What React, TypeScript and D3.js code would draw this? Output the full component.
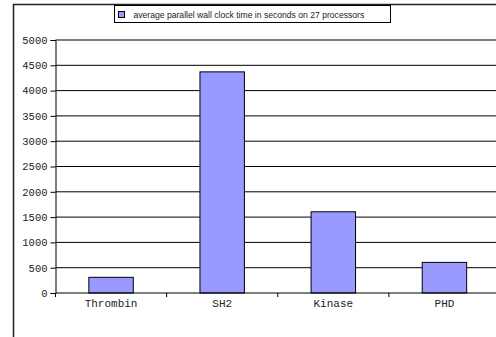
import React, { useRef, useEffect } from 'react';
import * as d3 from 'd3';

const categories = ['Thrombin', 'SH2', 'Kinase', 'PHD'];
const wallClock = [310, 4370, 1605, 605];
const yTicks = [0, 500, 1000, 1500, 2000, 2500, 3000, 3500, 4000, 4500, 5000];
const legendLabel = 'average parallel wall clock time in seconds on 27 processors';

const WallClockChart: React.FC = () => {
  const svgRef = useRef<SVGSVGElement>(null);

  useEffect(() => {
    if (!svgRef.current) return;
    const width = 496;
    const height = 337;
    const margin = { top: 40, right: -4, bottom: 44, left: 55.5 };

    const svg = d3.select(svgRef.current);
    svg.selectAll('*').remove();

    // outer chart frame (only top and left are visible in the window)
    svg.append('rect')
      .attr('x', 13.5).attr('y', 4.5)
      .attr('width', 600).attr('height', 400)
      .attr('fill', '#fff')
      .attr('stroke', '#222')
      .attr('stroke-width', 1.5);

    const x = d3.scaleBand()
      .domain(categories)
      .range([margin.left, width - margin.right])
      .paddingInner(0.6)
      .paddingOuter(0.3);

    const y = d3.scaleLinear()
      .domain([0, 5000])
      .range([height - margin.bottom, margin.top]);

    // gridlines
    svg.append('g')
      .selectAll('line')
      .data(yTicks.slice(1))
      .enter().append('line')
      .attr('x1', margin.left).attr('x2', width)
      .attr('y1', d => y(d)).attr('y2', d => y(d))
      .attr('stroke', '#000')
      .attr('stroke-width', 1);

    // bars
    svg.append('g')
      .selectAll('rect')
      .data(categories)
      .enter().append('rect')
      .attr('x', d => (x(d) || 0))
      .attr('y', (d, i) => y(wallClock[i]))
      .attr('width', x.bandwidth())
      .attr('height', (d, i) => y(0) - y(wallClock[i]))
      .attr('fill', '#9999ff')
      .attr('stroke', '#000')
      .attr('stroke-width', 1);

    // y axis
    svg.append('g')
      .attr('transform', `translate(${margin.left},0)`)
      .call(d3.axisLeft(y).tickValues(yTicks).tickSize(5).tickPadding(3).tickFormat(d3.format('d')))
      .call(g => g.select('.domain').attr('stroke', '#000'))
      .call(g => g.selectAll('.tick line').attr('stroke', '#000'))
      .call(g => g.selectAll('.tick text')
        .attr('fill', '#222')
        .style('font-family', '"Liberation Mono", monospace')
        .style('font-size', '10.5px'));

    // x axis: ticks at band boundaries
    const step = x.step();
    const bounds = d3.range(categories.length + 1).map(i => margin.left + i * step);
    const xg = svg.append('g');
    xg.append('line')
      .attr('x1', margin.left).attr('x2', width)
      .attr('y1', y(0)).attr('y2', y(0))
      .attr('stroke', '#000');
    xg.selectAll('.xtick')
      .data(bounds)
      .enter().append('line')
      .attr('x1', d => d).attr('x2', d => d)
      .attr('y1', y(0)).attr('y2', y(0) + 4)
      .attr('stroke', '#000');
    xg.selectAll('text')
      .data(categories)
      .enter().append('text')
      .attr('x', d => (x(d) || 0) + x.bandwidth() / 2)
      .attr('y', y(0) + 14)
      .attr('text-anchor', 'middle')
      .attr('fill', '#222')
      .style('font-family', '"Liberation Mono", monospace')
      .style('font-size', '11px')
      .text(d => d);

    // legend
    const lg = svg.append('g');
    lg.append('rect')
      .attr('x', 114.5).attr('y', 5.5)
      .attr('width', 276).attr('height', 17)
      .attr('fill', '#fff')
      .attr('stroke', '#000');
    lg.append('rect')
      .attr('x', 118.5).attr('y', 11.5)
      .attr('width', 6).attr('height', 6)
      .attr('fill', '#9999ff')
      .attr('stroke', '#000');
    lg.append('text')
      .attr('x', 133.5).attr('y', 17.5)
      .attr('fill', '#222')
      .style('font-family', '"Liberation Sans", Arial, sans-serif')
      .style('font-size', '8.6px')
      .text(legendLabel);
  }, []);

  return (
    <svg ref={svgRef} width={496} height={337} style={{ display: 'block', background: '#fff' }}></svg>
  );
};

export default function App() {
  useEffect(() => {
    document.body.style.margin = '0';
  }, []);
  return <WallClockChart />;
}
